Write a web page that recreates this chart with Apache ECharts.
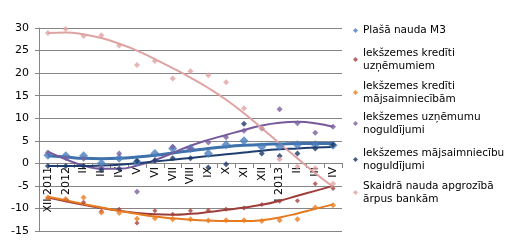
<!DOCTYPE html>
<html>
<head>
<meta charset="utf-8">
<script src="https://cdn.jsdelivr.net/npm/echarts@6/dist/echarts.min.js"></script>
<style>html,body{margin:0;padding:0;background:#fff}#c{width:528px;height:248px}</style>
</head>
<body>
<div id="c"></div>
<script>
const categories = ['XII 2011','I 2012','II','III','IV','V','VI','VII','VIII','IX','X','XI','XII','I 2013','II','III','IV'];
const yTicks = [-15,-10,-5,0,5,10,15,20,25,30];
const seriesNames = ['Plašā nauda M3','Iekšzemes kredīti\nuzņēmumiem','Iekšzemes kredīti\nmājsaimniecībām','Iekšzemes uzņēmumu\nnoguldījumi','Iekšzemes mājsaimniecību\nnoguldījumi','Skaidrā nauda apgrozībā\nārpus bankām'];

const m3 =        [1.8,1.7,1.7,0.0,1.1,0.3,2.2,3.3,3.3,2.2,4.1,5.0,3.7,3.8,4.1,4.1,4.0];
const kredUzn =   [-7.8,-8.2,-8.6,-10.6,-10.2,-13.2,-10.5,-11.3,-10.5,-10.4,-10.2,-9.9,-9.1,-8.4,-8.3,-4.5,-5.6];
const kredMaj =   [-7.6,-7.9,-7.6,-10.9,-11.0,-12.3,-12.2,-12.4,-12.4,-12.7,-12.6,-12.6,-12.8,-12.6,-12.4,-9.8,-9.3];
const noguldUzn = [2.4,1.2,1.0,-1.0,2.2,-6.3,0.5,3.7,3.3,4.6,5.8,7.2,7.7,12.0,8.9,6.8,8.1];
const noguldMaj = [-0.6,-0.6,-0.6,-1.5,-1.2,0.5,0.7,1.1,1.1,-0.9,-0.2,8.8,2.2,1.6,2.2,3.3,4.1];
const cash =      [28.9,29.8,28.2,28.4,26.1,21.8,22.7,18.8,20.4,19.5,18.0,12.2,7.8,0.9,-0.7,-1.1,-4.5];

const trendM3 =        [1.7,1.4,1.1,1.0,1.1,1.4,1.8,2.3,2.8,3.3,3.7,4.0,4.2,4.3,4.4,4.4,4.4];
const trendKredUzn =   [-7.6,-8.4,-9.2,-9.9,-10.5,-11.0,-11.3,-11.4,-11.2,-10.8,-10.3,-9.8,-9.2,-8.3,-7.2,-6.1,-5.0];
const trendKredMaj =   [-7.4,-8.2,-9.0,-9.8,-10.5,-11.2,-11.8,-12.2,-12.5,-12.7,-12.8,-12.8,-12.6,-12.0,-11.1,-10.1,-9.1];
const trendNoguldUzn = [2.6,0.9,-0.5,-1.2,-1.2,-0.5,0.7,2.3,3.9,5.2,6.3,7.4,8.4,9.0,9.2,8.9,8.1];
const trendNoguldMaj = [-0.6,-0.6,-0.6,-0.5,-0.3,0.0,0.4,0.8,1.2,1.6,2.0,2.4,2.8,3.1,3.3,3.5,3.6];
const trendCash =      [28.9,29.0,28.6,27.8,26.5,25.0,23.1,21.1,19.0,16.7,14.1,11.1,7.8,4.4,1.1,-2.2,-5.2];

const pointData = [m3,kredUzn,kredMaj,noguldUzn,noguldMaj,cash];
const trendData = [trendM3,trendKredUzn,trendKredMaj,trendNoguldUzn,trendNoguldMaj,trendCash];
const markerColors = ['#4a7ebb','#a5403c','#ec7d22','#7b5fa0','#1b3766','#e2a3a3'];
const lineColors   = ['#3f71ad','#9e3e3a','#e67a20','#76599c','#1f3d6e','#dfa3a3'];
const markerSizes  = [9,5,6,6,6,6];
const lineWidths   = [3,2,2,2,2,2];

const FONT = 'DejaVu Sans';
const series = [];
trendData.forEach((d,i)=>{
  series.push({type:'line', name:'trend'+i, data:d, smooth:true, symbol:'none',
    lineStyle:{color:lineColors[i], width:lineWidths[i]}, z:2, silent:true});
});
pointData.forEach((d,i)=>{
  series.push({type:'scatter', name:seriesNames[i], data:d, symbol:'diamond',
    symbolSize:markerSizes[i], itemStyle:{color:markerColors[i]}, z:3});
});

const legendTops = [19, 35, 68, 99, 135, 168];
const legends = seriesNames.map((n,i)=>{
  const multi = n.indexOf('\n')>=0;
  return {
    data:[n], left:348, top:legendTops[i], orient:'vertical', icon:'diamond',
    itemWidth:5, itemHeight:5, selectedMode:false,
    textStyle:{fontFamily:FONT, fontSize:10.5, color:'#000', lineHeight:13, padding: multi?[13,0,0,0]:0}
  };
});

const chart = echarts.init(document.getElementById('c'), null, {renderer:'canvas'});
chart.setOption({
  animation:false,
  backgroundColor:'#fff',
  grid:{left:39, right:186, top:28, bottom:17, containLabel:false, outerBoundsMode:'none'},
  legend: legends,
  xAxis:{type:'category', data:categories, boundaryGap:true, position:'bottom', offset:-68,
    axisLine:{onZero:false, lineStyle:{color:'#868686', width:1}},
    axisTick:{show:true, length:5, lineStyle:{color:'#868686'}},
    axisLabel:{rotate:90, interval:0, margin:4, fontFamily:FONT, fontSize:11, color:'#000'},
    splitLine:{show:false}},
  yAxis:{type:'value', min:yTicks[0], max:yTicks[yTicks.length-1], interval:5,
    axisLine:{show:true, lineStyle:{color:'#868686'}},
    axisTick:{show:true, length:4, lineStyle:{color:'#868686'}},
    axisLabel:{margin:10, fontFamily:FONT, fontSize:11, color:'#000'},
    splitLine:{lineStyle:{color:'#868686', width:1}}},
  series: series
});
</script>
</body>
</html>
